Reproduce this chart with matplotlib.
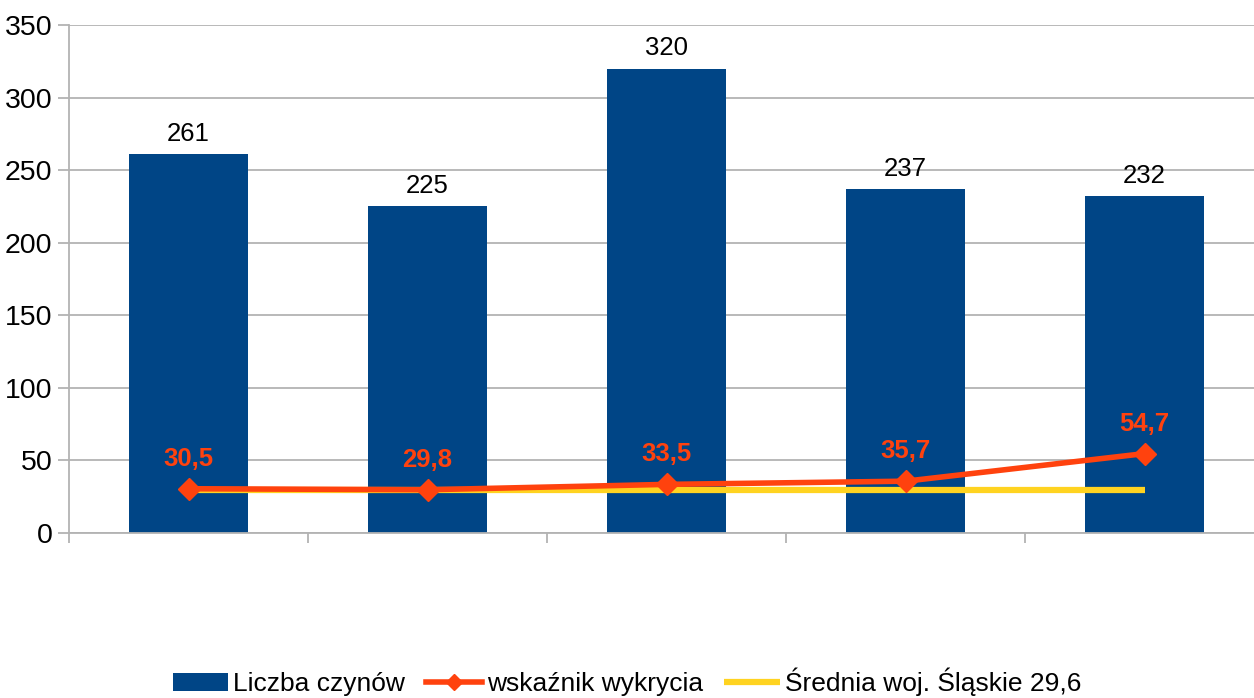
import numpy as np
import matplotlib.pyplot as plt

plt.rcParams['font.family'] = ['Liberation Sans', 'DejaVu Sans']

# data
liczba_czynow = [261, 225, 320, 237, 232]
wskaznik = [30.5, 29.8, 33.5, 35.7, 54.7]
srednia = 29.6
n = len(liczba_czynow)

blue = '#004586'
orange = '#ff420e'
yellow = '#ffd320'
grid_c = '#b3b3b3'

fig = plt.figure(figsize=(12.54, 6.98), dpi=100)
ax = fig.add_axes([69/1254, 1-533/698, (1264-69)/1254, (533-25)/698])

x = np.arange(n)
ax.bar(x, liczba_czynow, width=0.5, color=blue, zorder=2, label='Liczba czynów')
for xi, v in zip(x, liczba_czynow):
    ax.annotate(str(v), (xi, v), xytext=(0, 6), textcoords='offset points',
                ha='center', va='bottom', fontsize=18.5, color='black')

ax.plot(x, [srednia]*n, color=yellow, lw=4.5, zorder=3, label='Średnia woj. Śląskie 29,6',
        solid_capstyle='butt')
ax.plot(x, wskaznik, color=orange, lw=4, marker='D', markersize=11, zorder=4,
        label='wskaźnik wykrycia')
for xi, v in zip(x, wskaznik):
    ax.annotate(f'{v:.1f}'.replace('.', ','), (xi, v), xytext=(0, 13), textcoords='offset points',
                ha='center', va='bottom', fontsize=18.5, fontweight='bold', color=orange)

ax.set_xlim(-0.5, n - 0.5)
ax.set_ylim(0, 350)
ax.set_yticks(np.arange(0, 351, 50))
ax.yaxis.grid(True, color=grid_c, lw=1.3, zorder=0)
ax.set_axisbelow(True)
ax.tick_params(axis='y', labelsize=20.5, length=8, color=grid_c, width=1.3, pad=4)
ax.set_xticks(np.arange(-0.5, n - 0.5, 1.0))
ax.set_xticklabels([])
ax.tick_params(axis='x', length=7.5, color=grid_c, width=1.3)
for s in ['top', 'right']:
    ax.spines[s].set_visible(False)
ax.spines['left'].set_color(grid_c)
ax.spines['bottom'].set_color(grid_c)
ax.spines['left'].set_linewidth(1.3)
ax.spines['bottom'].set_linewidth(1.3)

h, l = ax.get_legend_handles_labels()
order = [2, 1, 0]
fig.legend([h[i] for i in order], [l[i] for i in order], loc='center',
           bbox_to_anchor=(0.5, 1-682/698), ncol=3, frameon=False, fontsize=19,
           handlelength=2.1, handletextpad=0.2, columnspacing=0.8, markerscale=0.7)

fig.savefig('out.png', dpi=100)
